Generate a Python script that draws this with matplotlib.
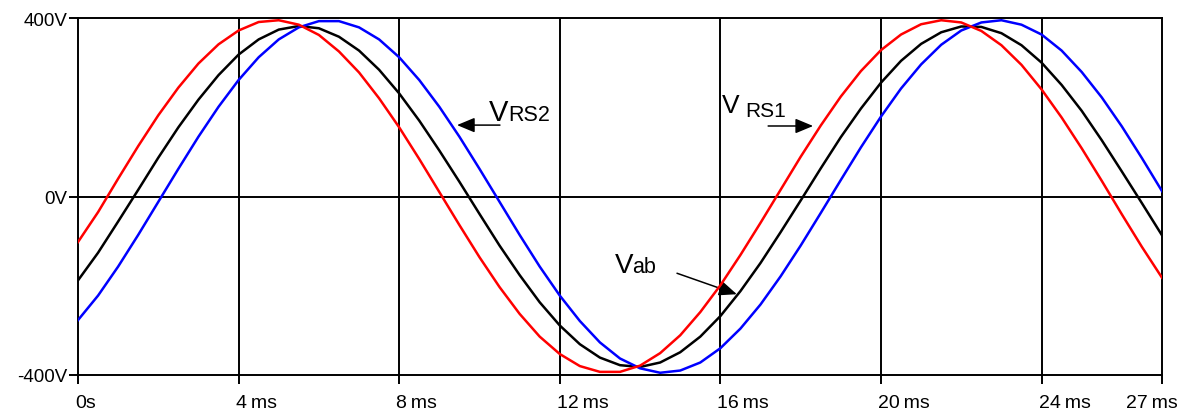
import matplotlib
matplotlib.use("Agg")
import matplotlib.pyplot as plt
from matplotlib.transforms import ScaledTranslation

plt.rcParams['font.family'] = ['Liberation Sans', 'DejaVu Sans']

# time axis in ms, one sample every 0.5 ms
t_ms = [i * 0.5 for i in range(55)]

v_rs1 = [-102, -35, 40, 113, 182, 244, 298, 341, 372, 391, 395, 385, 362, 325,
         278, 220, 155, 84, 10, -64, -136, -203, -263, -314, -353, -380, -393,
         -393, -379, -351, -311, -259, -199, -131, -59, 15, 89, 159, 224, 281,
         328, 363, 386, 395, 390, 371, 339, 295, 240, 177, 108, 35, -40, -113,
         -182]

v_rs2 = [-277, -222, -157, -86, -12, 62, 134, 201, 261, 312, 352, 379, 393, 393,
         379, 352, 312, 261, 201, 134, 62, -12, -86, -157, -222, -279, -327,
         -363, -385, -395, -390, -372, -340, -296, -242, -179, -110, -37, 37,
         110, 179, 242, 296, 340, 372, 390, 395, 385, 363, 327, 279, 222, 157,
         86, 12]

v_ab = [-188, -126, -56, 15, 87, 155, 217, 272, 318, 352, 374, 382, 377, 358,
        327, 284, 231, 170, 103, 33, -39, -110, -176, -237, -289, -331, -361,
        -378, -382, -372, -349, -314, -268, -212, -149, -80, -9, 63, 133, 197,
        255, 304, 342, 368, 381, 380, 366, 339, 300, 250, 192, 126, 56, -15,
        -87]

x_ticks = [0, 4, 8, 12, 16, 20, 24, 27]
x_labels = ["0s", "4\u2009ms", "8\u2009ms", "12\u2009ms", "16\u2009ms",
            "20\u2009ms", "24\u2009ms", "27\u2009ms"]
y_ticks = [-400, 0, 400]
y_labels = ["-400V", "0V", "400V"]

fig = plt.figure(figsize=(11.82, 4.14), dpi=100)
ax = fig.add_axes([78 / 1182, 1 - 376 / 414, (1162 - 78) / 1182, (376 - 19) / 414])

# reference grid: vertical lines at each time tick, horizontal at 0 V
for xt in x_ticks[1:-1]:
    ax.axvline(xt, color='black', lw=1.4, zorder=1)
ax.axhline(0, color='black', lw=1.4, zorder=1)

ax.plot(t_ms, v_ab, color='black', lw=1.8, zorder=3)
ax.plot(t_ms, v_rs2, color='#0000ff', lw=1.8, zorder=3)
ax.plot(t_ms, v_rs1, color='#ff0000', lw=1.8, zorder=4)

ax.set_xlim(0, 27)
ax.set_ylim(-400, 400)
for s in ax.spines.values():
    s.set_linewidth(1.4)
    s.set_color('black')

ax.set_xticks(x_ticks)
ax.set_xticklabels(x_labels, fontsize=14)
ax.set_yticks(y_ticks)
ax.set_yticklabels(y_labels, fontsize=13.5)
ax.tick_params(axis='x', direction='out', length=6.5, width=1.4, pad=7)
ax.tick_params(axis='y', direction='out', length=6.5, width=1.4, pad=1)

for lab in ax.get_xticklabels():
    if lab.get_text().startswith("27"):
        lab.set_ha('right')
        dx = 16
    else:
        lab.set_ha('left')
        dx = -3
    lab.set_transform(lab.get_transform() + ScaledTranslation(dx / 100, 0, fig.dpi_scale_trans))

arrow = dict(arrowstyle='-|>,head_length=0.6,head_width=0.25', color='black',
             lw=1.1, shrinkA=0, shrinkB=0, mutation_scale=18)

# V_RS2 label with leftward arrow
ax.text(10.24, 171, "V", fontsize=21, ha='left', va='baseline')
ax.text(10.71, 171, "RS2", fontsize=15.5, ha='left', va='baseline')
ax.annotate("", xy=(9.44, 160), xytext=(10.51, 160), arrowprops=arrow)

# V_RS1 label with rightward arrow
ax.text(16.04, 189, "V", fontsize=19, ha='left', va='baseline')
ax.text(16.61, 180, "RS1", fontsize=15, ha='left', va='baseline')
ax.annotate("", xy=(18.31, 158), xytext=(17.19, 158), arrowprops=arrow)

# V_ab label pointing at the black trace
ax.text(13.37, -169, "V", fontsize=20, ha='left', va='baseline')
ax.text(13.80, -169, "ab", fontsize=15.5, ha='left', va='baseline')
ax.annotate("", xy=(16.41, -219), xytext=(14.92, -172), arrowprops=arrow)

fig.savefig("out.png", dpi=100)
